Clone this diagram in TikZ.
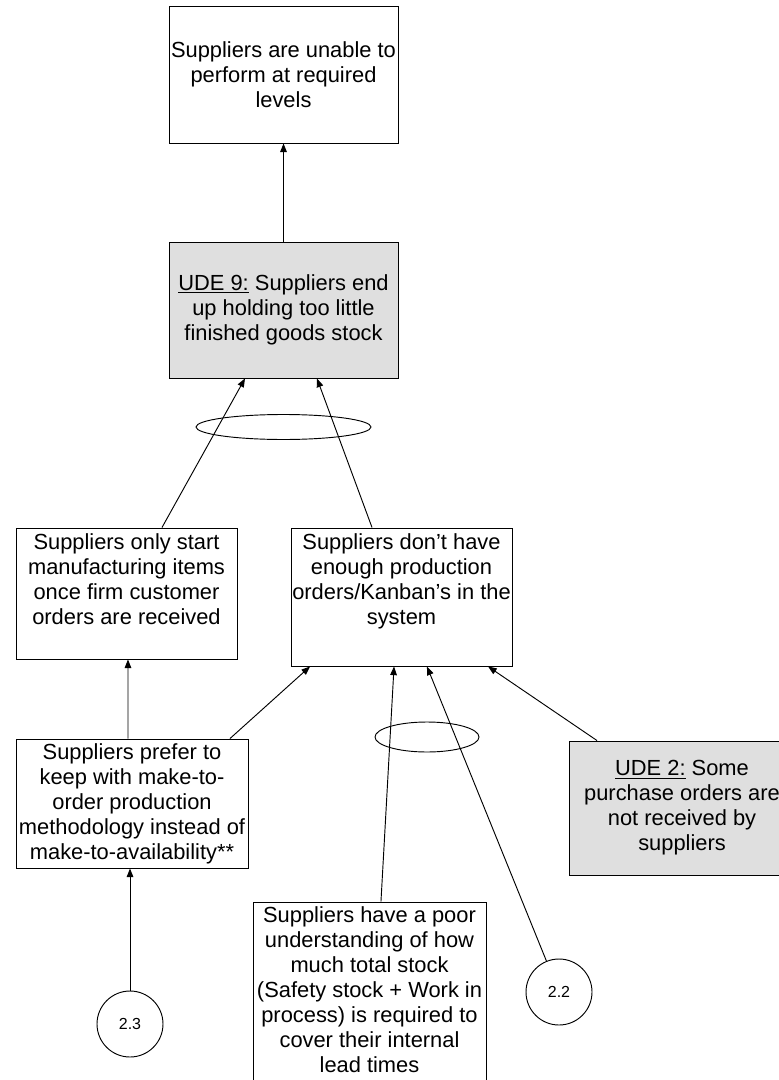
\documentclass[tikz,border=0pt]{standalone}
\usepackage{fontspec}
\setmainfont{Liberation Sans}
\usetikzlibrary{arrows.meta,shapes.geometric}

\begin{document}
\begin{tikzpicture}[x=0.75pt,y=-0.75pt]
    \tikzset{
    ent/.style={draw, inner sep=0pt, line width=0.7pt, font=\fontsize{16.4}{18.75}\selectfont},
    ude/.style={ent, fill=gray!25},
    ref/.style={draw, circle, minimum size=49.5pt, inner sep=0pt, line width=0.7pt, font=\fontsize{12}{14}\selectfont},
    band/.style={draw, ellipse, inner sep=0pt, line width=0.7pt},
    c1/.style={-{Triangle[length=6.5pt,width=5pt]}, line width=0.7pt},
    }
    \useasboundingbox (0,0) rectangle (778,1080);

    \node[ent] (e1) at (283.5,74.5) {\parbox[c][102.75pt][c]{171.75pt}{\centering Suppliers are unable to\\perform at required\\levels}};
    \node[ude] (u9) at (283.5,310) {\parbox[c][102pt][c]{171.75pt}{\centering\underline{UDE 9:} Suppliers end\\up holding too little\\finished goods stock}};
    \node[ent] (e2) at (126.5,593.5) {\parbox[c][98.25pt][t]{165.75pt}{\centering\vspace*{4.5pt}Suppliers only start\\manufacturing items\\once firm customer\\orders are received}};
    \node[ent] (e3) at (401.5,597) {\parbox[c][103.5pt][t]{165.75pt}{\centering\vspace*{4.5pt}Suppliers don’t have\\enough production\\orders/Kanban’s in the\\system}};
    \node[ent] (e4) at (132,803.5) {\parbox[c][96.75pt][c]{174pt}{\centering Suppliers prefer to\\keep with make-to-\\order production\\methodology instead of\\make-to-availability**}};
    \node[ude] (u2) at (682,808) {\parbox[c][100.5pt][c]{169.5pt}{\centering\underline{UDE 2:} Some\\purchase orders are\\not received by\\suppliers}};
    \node[ent] (e6) at (369.5,995) {\parbox[c][139.5pt][t]{174.75pt}{\centering\vspace*{3.5pt}Suppliers have a poor\\understanding of how\\much total stock\\(Safety stock + Work in\\process) is required to\\cover their internal\\lead times}};

    \node[ref] (r23) at (130,1024) {2.3};
    \node[ref] (r22) at (559,992) {2.2};

    \node[band, minimum width=131.25pt, minimum height=18.75pt] (and1) at (283.5,427) {};
    \node[band, minimum width=78pt, minimum height=22.5pt] (and2) at (427,737) {};

    \draw[c1] (u9) -- (e1);
    \draw[c1] ([xshift=26.6pt]e2.north) -- ([xshift=-28.9pt]u9.south);
    \draw[c1] ([xshift=-22.1pt]e3.north) -- ([xshift=25.1pt]u9.south);

    \draw[c1] ([xshift=-3pt]e4.north) -- ([xshift=1.1pt]e2.south);
    \draw[c1] ([xshift=73.5pt]e4.north) -- ([xshift=-68.6pt]e3.south);
    \draw[c1] ([xshift=8.6pt]e6.north) -- ([xshift=-5.6pt]e3.south);
    \draw[c1] (r22) -- ([xshift=19.1pt]e3.south);
    \draw[c1] ([xshift=-63.75pt]u2.north) -- ([xshift=64.9pt]e3.south);

    \draw[c1] (r23) -- ([xshift=-1.5pt]e4.south);

\end{tikzpicture}
\end{document}
